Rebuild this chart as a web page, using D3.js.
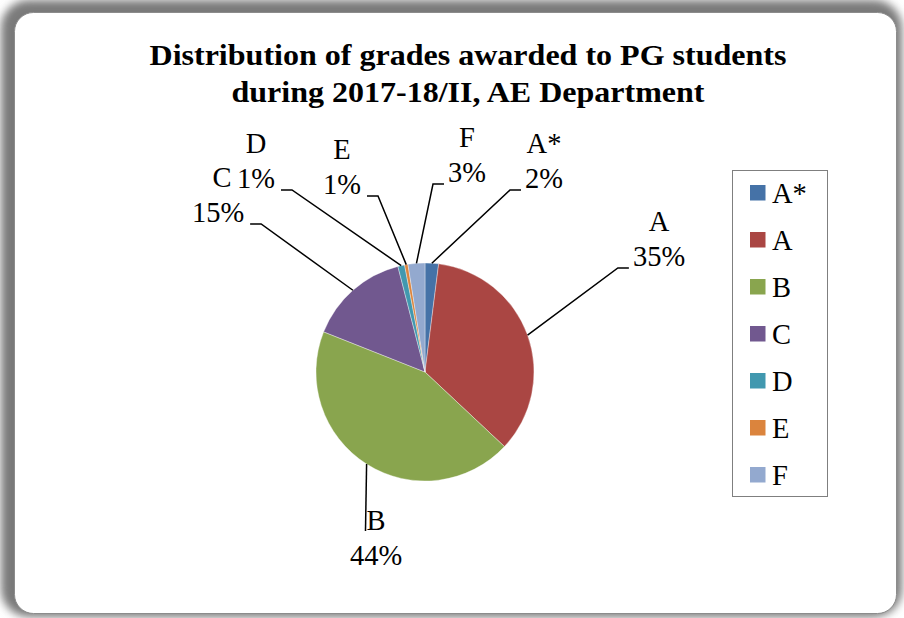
<!DOCTYPE html>
<html>
<head>
<meta charset="utf-8">
<script src="https://cdn.jsdelivr.net/npm/d3@7"></script>
<style>
  html, body { margin: 0; padding: 0; background: #ffffff; }
  svg { display: block; }
  text { font-family: "Liberation Serif", "Times New Roman", serif; fill: #000; }
</style>
</head>
<body>
<svg id="chart" width="904" height="618"></svg>
<script>
// ---- data ----
const categories = ["A*", "A", "B", "C", "D", "E", "F"];
const counts = [4, 70, 88, 30, 2, 1, 5];
const colors = ["#4572A7", "#AA4643", "#89A54E", "#71588F", "#4198AF", "#DB843D", "#93A9CF"];
const titleLines = ["Distribution of grades awarded to PG students", "during 2017-18/II, AE Department"];

// ---- layout (label placement relative to pie centre) ----
const labelLayout = [
  { dx: 119, dy: -184, side: "right", nx: 0 },
  { dx: 234, dy: -106, side: "right", nx: 0 },
  { dx: -49, dy: 193, side: "below", nx: 0 },
  { dx: -207, dy: -150, side: "left", nx: 4 },
  { dx: -169, dy: -184, side: "left", nx: 0 },
  { dx: -83, dy: -178, side: "left", nx: 0 },
  { dx: 42, dy: -190, side: "right", nx: 0 }
];
const titleWidths = [637, 473];

const W = 904, H = 618;
const svg = d3.select("#chart");
const defs = svg.append("defs");
const f = defs.append("filter").attr("id", "shadow").attr("x", "-10%").attr("y", "-10%").attr("width", "120%").attr("height", "120%");
f.append("feGaussianBlur").attr("stdDeviation", 4.5);

// frame with shadow
svg.append("rect").attr("x", 1).attr("y", 0).attr("width", 901).attr("height", 617).attr("rx", 28)
  .attr("fill", "#7a7a7a").attr("filter", "url(#shadow)");
svg.append("rect").attr("x", 14.5).attr("y", 12.5).attr("width", 882).attr("height", 601).attr("rx", 19)
  .attr("fill", "#ffffff").attr("stroke", "#8c8c8c").attr("stroke-width", 1);

// title
svg.append("g").selectAll("text").data(titleLines).join("text")
  .attr("x", 468).attr("y", (d, i) => 65 + i * 36.5)
  .attr("text-anchor", "middle").attr("font-weight", "bold").attr("font-size", 29.5)
  .attr("textLength", (d, i) => titleWidths[i]).attr("lengthAdjust", "spacingAndGlyphs")
  .text(d => d);

// pie
const cx = 425, cy = 372, r = 109;
const total = d3.sum(counts);
const data = categories.map((c, i) => ({ cat: c, value: counts[i], color: colors[i], layout: labelLayout[i] }));
const pie = d3.pie().value(d => d.value).sort(null);
const arcs = pie(data);
const arc = d3.arc().innerRadius(0).outerRadius(r);

const g = svg.append("g").attr("transform", `translate(${cx},${cy})`);
g.selectAll("path").data(arcs).join("path")
  .attr("d", arc).attr("fill", d => d.data.color)
  .attr("stroke", "#ffffff").attr("stroke-width", 0.6).attr("stroke-opacity", 0.6);

// labels
const fs = 28.5, lineGap = 35;
arcs.forEach(a => {
  const L = a.data.layout;
  const pct = Math.round(a.data.value * 100 / total) + "%";
  const lg = g.append("g");
  const t1 = lg.append("text").attr("x", L.dx + L.nx).attr("y", L.dy - lineGap)
    .attr("text-anchor", "middle").attr("font-size", fs).text(a.data.cat);
  const t2 = lg.append("text").attr("x", L.dx).attr("y", L.dy)
    .attr("text-anchor", "middle").attr("font-size", fs).text(pct);
  const w2 = t2.node().getComputedTextLength();
  const w1 = t1.node().getComputedTextLength();
  const mid = (a.startAngle + a.endAngle) / 2;
  const ex = r * Math.sin(mid), ey = -r * Math.cos(mid);
  let pts;
  if (L.side === "right") {
    const hx = L.dx - w2 / 2 - 4, hy = L.dy + 2;
    pts = [[ex, ey], [hx - 11, hy], [hx, hy]];
  } else if (L.side === "left") {
    const hx = L.dx + w2 / 2 + 6, hy = L.dy + 2;
    pts = [[ex, ey], [hx + 11, hy], [hx, hy]];
  } else {
    const hx = L.dx - w1 / 2 - 1, hy = L.dy - lineGap + 1;
    pts = [[ex, ey], [hx, hy]];
  }
  g.append("path").attr("d", d3.line()(pts)).attr("fill", "none")
    .attr("stroke", "#000").attr("stroke-width", 1.5);
});

// legend
const lx = 732, ly = 170, lw = 95, lh = 326;
svg.append("rect").attr("x", lx + 0.5).attr("y", ly + 0.5).attr("width", lw).attr("height", lh)
  .attr("fill", "#fff").attr("stroke", "#7f7f7f").attr("stroke-width", 1);
const ls = d3.scalePoint().domain(categories).range([193, 475]);
const li = svg.append("g").selectAll("g").data(data).join("g")
  .attr("transform", d => `translate(0,${ls(d.cat)})`);
li.append("rect").attr("x", 750).attr("y", -8).attr("width", 15.5).attr("height", 15.5).attr("fill", d => d.color);
li.append("text").attr("x", 772).attr("y", 10).attr("font-size", fs).text(d => d.cat);
</script>
</body>
</html>
